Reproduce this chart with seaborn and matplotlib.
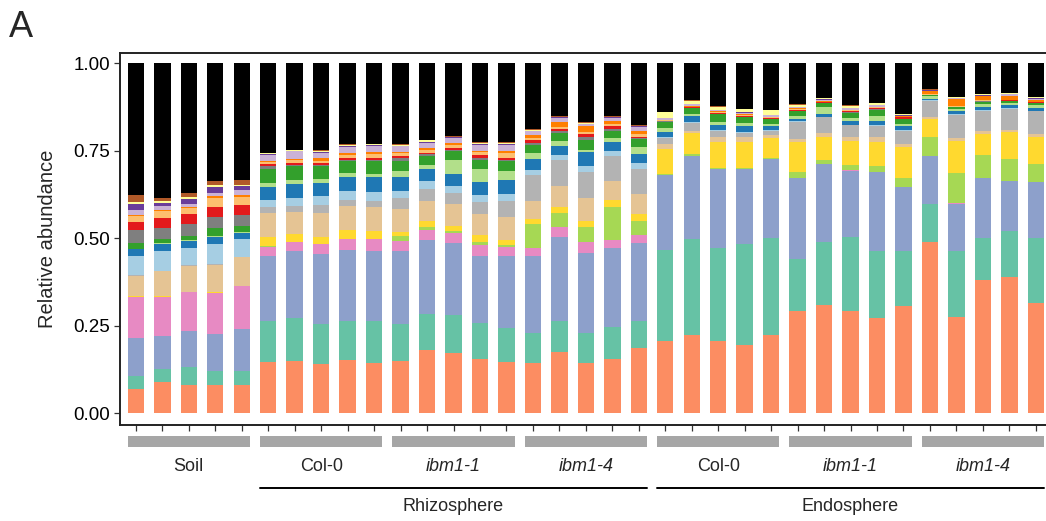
import matplotlib
matplotlib.use("Agg")  # non-interactive backend

import matplotlib.pyplot as plt
import matplotlib.transforms as mtransforms
from matplotlib.patches import Rectangle
import pandas as pd
import seaborn as sns

# taxa colours, stacking order bottom -> top; black "others" fills up to 1.0
TAXON_COLORS = [
    "#FC8D62", "#66C2A5", "#8DA0CB", "#E78AC3", "#A6D854", "#FFD92F",
    "#E5C494", "#B3B3B3", "#A6CEE3", "#1F78B4", "#B2DF8A", "#33A02C",
    "#7F7F7F", "#E31A1C", "#FDBF6F", "#FF7F00", "#CAB2D6", "#6A3D9A",
    "#FFFF99", "#B15928",
]
OTHERS_COLOR = "#000000"

# cumulative upper edge of each taxon (columns, same order as TAXON_COLORS)
# for every sample (rows)
SOIL = [
    [.069, .105, .214, .333, .333, .336, .393, .396, .450, .468, .470, .486, .522, .545, .563, .567, .581, .598, .603, .624],
    [.088, .126, .221, .333, .333, .335, .405, .407, .464, .484, .487, .498, .529, .557, .578, .581, .592, .600, .605, .616],
    [.079, .131, .235, .345, .345, .347, .421, .423, .473, .492, .494, .507, .540, .569, .585, .588, .598, .611, .617, .629],
    [.079, .121, .226, .343, .343, .345, .424, .426, .483, .503, .506, .529, .560, .588, .615, .619, .630, .646, .652, .664],
    [.079, .121, .241, .362, .362, .364, .445, .447, .497, .514, .518, .536, .567, .594, .618, .622, .638, .648, .652, .665],
]
RHIZO_COL0 = [
    [.146, .262, .450, .476, .478, .502, .571, .588, .610, .646, .657, .698, .705, .711, .718, .721, .737, .739, .743, .744],
    [.149, .271, .462, .490, .490, .512, .576, .593, .616, .655, .667, .705, .709, .714, .722, .727, .748, .749, .752, .753],
    [.140, .255, .456, .484, .484, .503, .573, .595, .619, .657, .669, .705, .709, .714, .720, .729, .743, .746, .750, .751],
    [.152, .264, .467, .497, .497, .524, .592, .610, .635, .676, .686, .719, .724, .729, .738, .743, .760, .762, .767, .768],
    [.143, .262, .464, .497, .497, .519, .589, .607, .631, .674, .684, .719, .724, .729, .740, .746, .764, .765, .769, .770],
]
RHIZO_IBM11 = [
    [.150, .255, .464, .492, .505, .518, .584, .614, .636, .676, .692, .721, .728, .735, .742, .746, .762, .764, .767, .768],
    [.179, .284, .495, .524, .532, .548, .607, .640, .662, .697, .710, .735, .739, .743, .752, .757, .773, .775, .779, .780],
    [.171, .279, .487, .514, .521, .535, .598, .629, .650, .683, .724, .750, .753, .757, .766, .771, .786, .788, .790, .791],
    [.154, .257, .450, .481, .488, .510, .568, .603, .624, .660, .697, .724, .730, .737, .745, .750, .767, .769, .772, .774],
    [.146, .243, .450, .474, .481, .495, .560, .607, .627, .665, .693, .719, .724, .729, .742, .748, .767, .769, .773, .774],
]
RHIZO_IBM14 = [
    [.143, .230, .450, .473, .540, .556, .605, .681, .695, .727, .743, .767, .773, .779, .786, .794, .805, .807, .810, .811],
    [.174, .264, .503, .531, .571, .590, .650, .722, .738, .763, .777, .800, .806, .812, .818, .833, .843, .845, .847, .848],
    [.143, .230, .458, .490, .531, .549, .615, .688, .707, .745, .752, .779, .790, .797, .802, .821, .826, .827, .830, .831],
    [.155, .245, .473, .496, .590, .610, .664, .735, .750, .774, .786, .807, .813, .819, .825, .836, .843, .845, .847, .848],
    [.186, .262, .485, .508, .550, .568, .627, .697, .714, .741, .760, .783, .787, .790, .797, .806, .817, .819, .821, .822],
]
ENDO_COL0 = [
    [.205, .467, .679, .679, .682, .755, .769, .786, .788, .802, .816, .833, .834, .836, .837, .838, .843, .844, .859, .860],
    [.224, .497, .736, .736, .740, .800, .807, .830, .833, .848, .855, .871, .872, .874, .876, .878, .883, .884, .893, .894],
    [.205, .473, .697, .697, .699, .776, .789, .807, .810, .824, .833, .854, .855, .858, .860, .862, .866, .867, .876, .877],
    [.196, .484, .697, .697, .699, .776, .789, .800, .803, .819, .829, .846, .847, .850, .852, .854, .858, .859, .869, .870],
    [.222, .500, .726, .726, .729, .786, .795, .807, .810, .821, .826, .840, .841, .843, .845, .847, .852, .853, .865, .866],
]
ENDO_IBM11 = [
    [.293, .440, .671, .672, .690, .776, .784, .833, .835, .841, .850, .862, .863, .867, .869, .871, .875, .876, .881, .882],
    [.308, .489, .712, .713, .724, .789, .800, .845, .847, .855, .874, .886, .887, .888, .890, .893, .896, .897, .900, .901],
    [.293, .503, .693, .694, .708, .778, .790, .822, .824, .836, .843, .857, .859, .863, .865, .867, .872, .873, .878, .879],
    [.272, .463, .688, .689, .705, .776, .789, .821, .823, .835, .850, .867, .868, .872, .874, .876, .880, .881, .886, .887],
    [.306, .463, .646, .647, .671, .759, .770, .807, .809, .821, .827, .840, .841, .845, .847, .848, .850, .851, .854, .855],
]
ENDO_IBM14 = [
    [.490, .598, .735, .735, .789, .840, .845, .892, .894, .898, .905, .908, .909, .910, .912, .919, .921, .922, .924, .925],
    [.276, .463, .598, .599, .686, .778, .786, .852, .855, .864, .869, .874, .875, .876, .878, .897, .899, .900, .903, .904],
    [.381, .500, .671, .672, .738, .797, .805, .864, .866, .874, .884, .890, .891, .892, .894, .905, .907, .908, .911, .912],
    [.389, .519, .662, .663, .727, .802, .809, .870, .872, .880, .886, .892, .893, .894, .896, .905, .911, .912, .914, .915],
    [.316, .500, .660, .661, .712, .788, .797, .862, .864, .871, .881, .886, .887, .888, .890, .895, .898, .899, .902, .903],
]

# (label, samples, italic)
GROUPS = [
    ("Soil", SOIL, False),
    ("Col-0", RHIZO_COL0, False),
    ("ibm1-1", RHIZO_IBM11, True),
    ("ibm1-4", RHIZO_IBM14, True),
    ("Col-0", ENDO_COL0, False),
    ("ibm1-1", ENDO_IBM11, True),
    ("ibm1-4", ENDO_IBM14, True),
]
# (label, first group index, last group index)
COMPARTMENTS = [("Rhizosphere", 1, 3), ("Endosphere", 4, 6)]

BAR_W = 0.62


def build_frame():
    rows = []
    for g, (label, samples, _) in enumerate(GROUPS):
        for s, tops in enumerate(samples):
            sample = f"{g}_{s}"
            for k, top in enumerate(tops):
                rows.append({"sample": sample, "layer": k, "top": top})
            rows.append({"sample": sample, "layer": len(tops), "top": 1.0})
    return pd.DataFrame(rows)


def main():
    sns.set_theme(style="ticks")
    plt.rcParams["font.family"] = ["Liberation Sans", "DejaVu Sans"]

    df = build_frame()
    order = list(dict.fromkeys(df["sample"]))
    colors = TAXON_COLORS + [OTHERS_COLOR]

    fig = plt.figure(figsize=(10.46, 5.21), dpi=100)
    ax = fig.add_axes([120 / 1046, 1 - 425 / 521, 931.7 / 1046, 372 / 521])

    # draw from the top layer down so each lower layer covers the one above
    for k in range(len(colors) - 1, -1, -1):
        sub = df[df["layer"] == k]
        sns.barplot(data=sub, x="sample", y="top", order=order,
                    color=colors[k], saturation=1, width=BAR_W,
                    errorbar=None, linewidth=0, ax=ax)

    ax.set_xlim(-0.6, len(order) - 0.4)
    ax.set_ylim(-0.034, 1.029)
    ax.set_yticks([0, 0.25, 0.5, 0.75, 1.0])
    ax.set_yticklabels(["0.00", "0.25", "0.50", "0.75", "1.00"])
    ax.set_xlabel("")
    ax.set_ylabel("Relative abundance", fontsize=14.5)
    ax.yaxis.set_label_coords(-0.068, 0.5)
    ax.tick_params(axis="y", labelsize=13.5, length=4, width=0.9, pad=3,
                   colors="#333333", labelcolor="black")
    ax.tick_params(axis="x", labelbottom=False, length=4, width=0.9, colors="#333333")
    for sp in ax.spines.values():
        sp.set_linewidth(1.4)
        sp.set_color("#222222")

    trans = mtransforms.blended_transform_factory(ax.transData, ax.transAxes)
    half = BAR_W / 2
    start = 0
    spans = []
    for label, samples, italic in GROUPS:
        end = start + len(samples) - 1
        spans.append((start, end))
        ax.add_patch(Rectangle((start - half, -0.059), end - start + BAR_W, 0.029,
                               transform=trans, clip_on=False,
                               facecolor="#A6A6A6", edgecolor="none"))
        ax.text((start + end) / 2, -0.111, label, transform=trans,
                ha="center", va="center", fontsize=13,
                style="italic" if italic else "normal")
        start = end + 1

    for label, g0, g1 in COMPARTMENTS:
        x0 = spans[g0][0] - half
        x1 = spans[g1][1] + half
        ax.plot([x0, x1], [-0.169, -0.169], transform=trans, clip_on=False,
                color="black", linewidth=1.4)
        ax.text((x0 + x1) / 2, -0.218, label, transform=trans,
                ha="center", va="center", fontsize=13)

    fig.text(9 / 1046, 1 - 37 / 521, "A", fontsize=26, ha="left", va="baseline")

    fig.savefig("out.png", dpi=100)
    plt.close(fig)


if __name__ == "__main__":
    main()
